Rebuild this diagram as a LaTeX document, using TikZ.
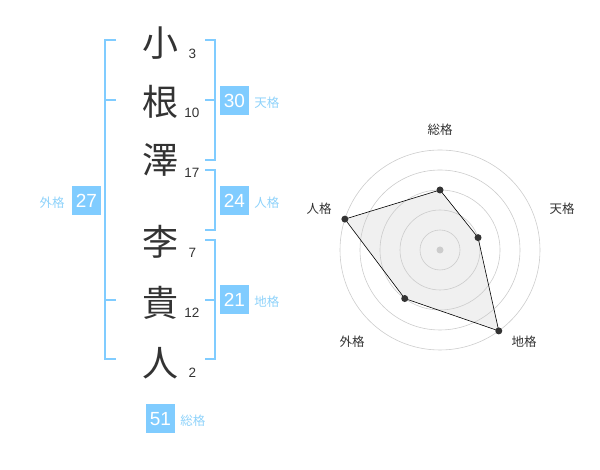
\documentclass[tikz,border=0pt]{standalone}
\usepackage{fontspec}
\setmainfont{Liberation Sans}
\newfontfamily\jp{Noto Sans CJK JP}
\usetikzlibrary{positioning,calc}
\definecolor{boxblue}{HTML}{80CCFF}
\definecolor{tagblue}{HTML}{8ED2FA}
\definecolor{ink}{HTML}{333333}
\definecolor{ringgray}{HTML}{CCCCCC}

\begin{document}
\begin{tikzpicture}[x=1pt,y=1pt,
  kanji/.style={inner sep=0pt, text=ink, font=\jp\fontsize{36}{36}\selectfont},
  strokes/.style={inner sep=0pt, text=ink, font=\fontsize{13.5}{13.5}\selectfont},
  scorebox/.style={fill=boxblue, text=white, minimum size=29pt, inner sep=0pt, font=\fontsize{19}{19}\selectfont},
  tag/.style={inner sep=0pt, text=tagblue, font=\jp\fontsize{12.5}{12.5}\selectfont},
  bracket/.style={draw=boxblue, line width=2pt},
  ring/.style={draw=ringgray, line width=0.6pt},
  area/.style={fill=black!6},
  outline/.style={draw=black, line width=0.6pt},
  axislabel/.style={inner sep=0pt, text=ink, font=\jp\fontsize{12.5}{12.5}\selectfont}]
  \useasboundingbox (0,0) rectangle (600,470);
  \node[kanji] (k1) at (160,427) {小};
  \node[kanji] (k2) at (160,368) {根};
  \node[kanji] (k3) at (160,310) {澤};
  \node[kanji] (k4) at (160,228) {李};
  \node[kanji] (k5) at (160,167) {貴};
  \node[kanji] (k6) at (160,107) {人};
  \node[strokes] (n1) at (192.5,416.5) {3};
  \node[strokes] (n2) at (192,357.5) {10};
  \node[strokes] (n3) at (192,297) {17};
  \node[strokes] (n4) at (192.5,217.5) {7};
  \node[strokes] (n5) at (192,157) {12};
  \node[strokes] (n6) at (192.5,97) {2};
  % brackets
  \draw[bracket] (116,430) -- (105,430) -- (105,111) -- (116,111);
  \draw[bracket] (105,370) -- (116,370);
  \draw[bracket] (105,170) -- (116,170);
  \draw[bracket] (205,430) -- (215,430) -- (215,310) -- (205,310);
  \draw[bracket] (205,370) -- (215,370);
  \draw[bracket] (205,300) -- (215,300) -- (215,240) -- (205,240);
  \draw[bracket] (205,230) -- (215,230) -- (215,111) -- (205,111);
  \draw[bracket] (205,170) -- (215,170);
  \node[scorebox] (b30) at (234.5,369.5) {30};
  \node[scorebox] (b24) at (234.5,269.5) {24};
  \node[scorebox] (b21) at (234.5,170) {21};
  \node[scorebox] (b27) at (86.5,269.5) {27};
  \node[scorebox] (b51) at (160.5,51) {51};
  \node[tag, base right=5pt of b30] (t30) {天格};
  \node[tag, base right=5pt of b24] (t24) {人格};
  \node[tag, base right=5pt of b21] (t21) {地格};
  \node[tag, base left=7pt of b27] (t27) {外格};
  \node[tag, base right=5pt of b51] (t51) {総格};
  % radar
  \coordinate (c) at (440,220);
  \foreach \a/\v/\n in {90/60/s, 18/40/t, -54/100/d, -126/60/g, 162/100/j}
    \coordinate (p\n) at ($(c)+(\a:\v)$);
  \fill[area] (ps) -- (pt) -- (pd) -- (pg) -- (pj) -- cycle;
  \foreach \r in {20,40,60,80,100}
    \draw[ring] (c) circle[radius=\r];
  \fill[ringgray] (c) circle[radius=3.5];
  \draw[outline] (ps) -- (pt) -- (pd) -- (pg) -- (pj) -- cycle;
  \foreach \n in {s,t,d,g,j}
    \fill[ink] (p\n) circle[radius=3.5];
  \foreach \dx/\dy/\n/\txt in {0/120/s/総格, 122/41/t/天格, 84/-92/d/地格, -88/-92/g/外格, -121/41/j/人格}
    \node[axislabel] (l\n) at ($(c)+(\dx,\dy)$) {\txt};
\end{tikzpicture}
\end{document}
